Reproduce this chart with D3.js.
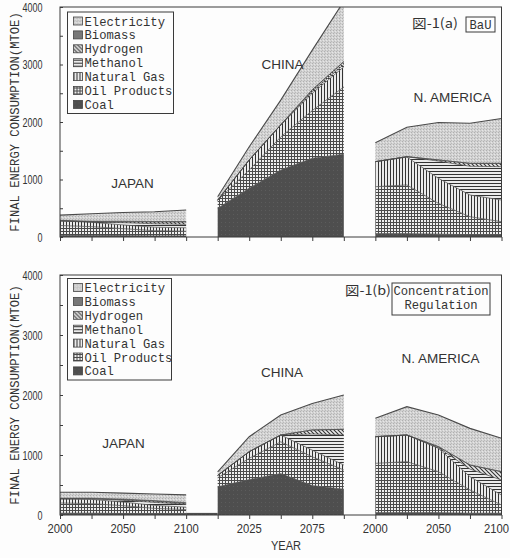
<!DOCTYPE html>
<html><head><meta charset="utf-8">
<script src="https://cdn.jsdelivr.net/npm/d3@7"></script>
<style>
html,body{margin:0;padding:0;background:#fff;}
svg{display:block;}
</style></head><body>
<svg id="chart" width="510" height="558"></svg>
<script>
// ---------------- DATA ----------------
const years = [2000, 2025, 2050, 2075, 2100];
const fuels = ['Coal', 'Oil Products', 'Natural Gas', 'Methanol', 'Hydrogen', 'Biomass', 'Electricity'];
const regions = ['JAPAN', 'CHINA', 'N. AMERICA'];
const yTicks = [0, 1000, 2000, 3000, 4000];
const xTickLabels = [
  ['JAPAN', 2000], ['JAPAN', 2050], ['JAPAN', 2100],
  ['CHINA', 2025], ['CHINA', 2075],
  ['N. AMERICA', 2000], ['N. AMERICA', 2050], ['N. AMERICA', 2100]
];

// rows follow `fuels` order (bottom of stack first), columns follow `years` (MTOE)
const bauJapan = [
  [30, 30, 25, 20, 20],
  [170, 150, 120, 90, 80],
  [80, 75, 65, 60, 60],
  [0, 10, 40, 60, 60],
  [0, 0, 15, 30, 40],
  [10, 10, 10, 10, 10],
  [90, 130, 150, 170, 200]
];
const bauChina = [
  [500, 850, 1165, 1370, 1440],
  [140, 315, 575, 830, 1170],
  [0, 175, 210, 300, 350],
  [0, 0, 0, 30, 40],
  [0, 0, 0, 30, 50],
  [0, 0, 0, 0, 0],
  [60, 230, 430, 690, 1050]
];
const bauNAmerica = [
  [60, 60, 50, 40, 40],
  [815, 845, 535, 313, 226],
  [435, 485, 435, 377, 377],
  [0, 7, 300, 500, 580],
  [0, 0, 20, 50, 57],
  [0, 0, 0, 0, 0],
  [330, 511, 650, 697, 780]
];
const regJapan = [
  [30, 30, 25, 20, 20],
  [170, 160, 130, 90, 70],
  [70, 70, 60, 50, 40],
  [0, 10, 30, 50, 50],
  [0, 0, 10, 20, 15],
  [10, 10, 10, 10, 10],
  [100, 100, 100, 110, 130]
];
const regChina = [
  [470, 590, 690, 490, 430],
  [150, 355, 530, 480, 320],
  [40, 110, 113, 110, 83],
  [0, 0, 0, 270, 500],
  [0, 0, 0, 67, 95],
  [0, 0, 0, 0, 0],
  [60, 250, 334, 443, 572]
];
const regNAmerica = [
  [40, 40, 40, 30, 30],
  [821, 849, 682, 387, 137],
  [444, 444, 389, 222, 166],
  [0, 0, 10, 127, 250],
  [0, 0, 18, 67, 139],
  [0, 0, 0, 0, 0],
  [306, 472, 528, 611, 556]
];
const regGapCoal = 35; // small residual strip between JAPAN and CHINA in panel (b)

// ---------------- LAYOUT ----------------
const svg = d3.select('#chart');
svg.append('rect').attr('width', 510).attr('height', 558).attr('fill', '#fdfdfd');
const defs = svg.append('defs');

function pattern(id, w, h, draw) {
  const p = defs.append('pattern').attr('id', id)
    .attr('patternUnits', 'userSpaceOnUse').attr('width', w).attr('height', h);
  draw(p);
}
pattern('p-coal', 4, 4, p => {
  p.append('rect').attr('width', 4).attr('height', 4).attr('fill', '#4e4e4e');
  p.append('rect').attr('x', 1).attr('y', 2).attr('width', 1).attr('height', 1).attr('fill', '#5c5c5c');
});
pattern('p-oil', 3, 3, p => {
  p.append('rect').attr('width', 3).attr('height', 3).attr('fill', '#eeeeee');
  p.append('rect').attr('width', 3).attr('height', 1).attr('fill', '#4a4a4a');
  p.append('rect').attr('width', 1).attr('height', 3).attr('fill', '#4a4a4a');
});
pattern('p-ng', 3, 3, p => {
  p.append('rect').attr('width', 3).attr('height', 3).attr('fill', '#ebebeb');
  p.append('rect').attr('width', 1).attr('height', 3).attr('fill', '#333');
});
pattern('p-meth', 3, 3, p => {
  p.append('rect').attr('width', 3).attr('height', 3).attr('fill', '#ebebeb');
  p.append('rect').attr('width', 3).attr('height', 1).attr('fill', '#333');
});
pattern('p-hyd', 4, 4, p => {
  p.append('rect').attr('width', 4).attr('height', 4).attr('fill', '#ebebeb');
  p.append('path').attr('d', 'M0,0L4,4M-1,3L1,5M3,-1L5,1').attr('stroke', '#333').attr('stroke-width', 1.1);
});
pattern('p-bio', 2, 2, p => {
  p.append('rect').attr('width', 2).attr('height', 2).attr('fill', '#9a9a9a');
  p.append('rect').attr('width', 1).attr('height', 1).attr('fill', '#555');
  p.append('rect').attr('x', 1).attr('y', 1).attr('width', 1).attr('height', 1).attr('fill', '#555');
});
pattern('p-elec', 3, 3, p => {
  p.append('rect').attr('width', 3).attr('height', 3).attr('fill', '#d2d2d2');
  p.append('rect').attr('x', 0).attr('y', 0).attr('width', 1).attr('height', 1).attr('fill', '#b0b0b0');
  p.append('rect').attr('x', 2).attr('y', 1).attr('width', 1).attr('height', 1).attr('fill', '#e6e6e6');
  p.append('rect').attr('x', 1).attr('y', 2).attr('width', 1).attr('height', 1).attr('fill', '#bababa');
});
const fuelFill = d3.scaleOrdinal().domain(fuels)
  .range(['url(#p-coal)', 'url(#p-oil)', 'url(#p-ng)', 'url(#p-meth)', 'url(#p-hyd)', 'url(#p-bio)', 'url(#p-elec)']);

// x: 15 tick slots (25-year steps), regions at offsets 0, 5, 10
const xIdx = d3.scaleLinear().domain([0, 14]).range([60, 501.5]);
const regionOffset = d3.scaleOrdinal().domain(regions).range([0, 5, 10]);
const xPos = (region, year) => xIdx(regionOffset(region) + (year - years[0]) / 25);

const panels = [
  { id: 'a', top: 7, bottom: 237, data: [bauJapan, bauChina, bauNAmerica], legendTop: 12, legendW: 106, gap: 0,
    tag: '図-1(a)', boxLines: ['BaU'], tagX: 412, tagY: 28, box: [466, 17, 29, 15],
    labels: [[132.5, 188], [282.5, 69], [452.5, 102]], showX: false },
  { id: 'b', top: 275, bottom: 515, data: [regJapan, regChina, regNAmerica], legendTop: 278.5, legendW: 104, gap: regGapCoal,
    tag: '図-1(b)', boxLines: ['Concentration', 'Regulation'], tagX: 345, tagY: 295, box: [392, 283, 98, 32],
    labels: [[123.5, 448], [282, 377], [440.5, 363]], showX: true }
];

const ink = '#3a3a3a';
const sansFont = 'Liberation Sans, Arial, sans-serif';
const monoFont = 'Liberation Mono, DejaVu Sans Mono, monospace';

panels.forEach(P => {
  const y = d3.scaleLinear().domain([0, 4000]).range([P.bottom, P.top]);
  const g = svg.append('g');
  const clipId = 'clip-' + P.id;
  defs.append('clipPath').attr('id', clipId).append('rect')
    .attr('x', xIdx(0)).attr('y', P.top).attr('width', xIdx(14) - xIdx(0)).attr('height', P.bottom - P.top);
  const plot = g.append('g').attr('clip-path', `url(#${clipId})`);

  regions.forEach((reg, ri) => {
    const m = P.data[ri];
    const table = years.map((yr, j) => {
      const row = { year: yr };
      fuels.forEach((f, k) => row[f] = m[k][j]);
      return row;
    });
    const series = d3.stack().keys(fuels)(table);
    const area = d3.area().x(d => xPos(reg, d.data.year)).y0(d => y(d[0])).y1(d => y(d[1]));
    const line = d3.line().x(d => xPos(reg, d.data.year)).y(d => y(d[1]));
    plot.selectAll(null).data(series).enter().append('path')
      .attr('d', area).attr('fill', s => fuelFill(s.key)).attr('stroke', 'none');
    plot.selectAll(null).data(series.filter(s => s.key !== 'Coal')).enter().append('path')
      .attr('d', s => d3.line().x(d => xPos(reg, d.data.year)).y(d => y(d[0]))(s))
      .attr('fill', 'none').attr('stroke', '#4a4a4a').attr('stroke-width', 0.7);
    plot.append('path').datum(series[series.length - 1]).attr('d', line)
      .attr('fill', 'none').attr('stroke', '#4a4a4a').attr('stroke-width', 1.1);
  });
  if (P.gap > 0) {
    plot.append('rect').attr('x', xPos('JAPAN', 2100)).attr('y', y(P.gap))
      .attr('width', xPos('CHINA', 2000) - xPos('JAPAN', 2100)).attr('height', y(0) - y(P.gap))
      .attr('fill', 'url(#p-coal)');
  }

  // frame
  g.append('rect').attr('x', xIdx(0)).attr('y', P.top).attr('width', xIdx(14) - xIdx(0)).attr('height', P.bottom - P.top)
    .attr('fill', 'none').attr('stroke', ink).attr('stroke-width', 1);

  // x ticks
  const xAxis = d3.axisBottom(xIdx).tickValues(d3.range(15)).tickSize(4).tickFormat('');
  const xa = g.append('g').attr('transform', `translate(0,${P.bottom})`).call(xAxis);
  xa.select('.domain').remove();
  xa.selectAll('line').attr('stroke', ink);
  if (P.showX) {
    g.selectAll(null).data(xTickLabels).enter().append('text')
      .attr('transform', (d, i) => {
        const x = Math.min(xPos(d[0], d[1]), 496.5);
        return `translate(${x},${P.bottom + 18}) scale(0.9,1)`;
      })
      .attr('text-anchor', 'middle')
      .attr('font-family', sansFont)
      .attr('font-size', 12.5).attr('fill', '#333').text(d => d[1]);
  }

  // y ticks
  const yAxis = d3.axisLeft(y).tickValues(d3.range(0, 4001, 500)).tickSize(-3).tickFormat('');
  const ya = g.append('g').attr('transform', `translate(${xIdx(0)},0)`).call(yAxis);
  ya.select('.domain').remove();
  ya.selectAll('line').attr('stroke', ink);
  g.selectAll(null).data(yTicks).enter().append('text')
    .attr('transform', d => `translate(42.5,${y(d)}) scale(0.72,1)`)
    .attr('dy', '0.36em').attr('text-anchor', 'end')
    .attr('font-family', sansFont)
    .attr('font-size', 12.5).attr('fill', '#333').text(d => d);

  // y title
  g.append('text').attr('transform', `translate(19,${(P.top + P.bottom) / 2}) rotate(-90)`)
    .attr('text-anchor', 'middle').attr('font-family', monoFont)
    .attr('font-size', 12.2).attr('fill', '#333').text('FINAL ENERGY CONSUMPTION(MTOE)');

  // region labels
  g.selectAll(null).data(regions).enter().append('text')
    .attr('x', (d, i) => P.labels[i][0]).attr('y', (d, i) => P.labels[i][1])
    .attr('text-anchor', 'middle').attr('font-family', sansFont)
    .attr('font-size', 13.5).attr('fill', '#333').text(d => d);

  // legend
  const lg = g.append('g');
  const lx = 67.5, rowH = 13.9;
  lg.append('rect').attr('x', lx).attr('y', P.legendTop).attr('width', P.legendW).attr('height', 101.5)
    .attr('fill', '#fdfdfd').attr('stroke', ink).attr('stroke-width', 1);
  const items = fuels.slice().reverse();
  const it = lg.selectAll(null).data(items).enter().append('g')
    .attr('transform', (d, i) => `translate(${lx + 6},${P.legendTop + 9 + i * rowH})`);
  it.append('rect').attr('x', 0).attr('y', -4).attr('width', 9).attr('height', 8)
    .attr('fill', d => fuelFill(d)).attr('stroke', '#444').attr('stroke-width', 0.8);
  it.append('text').attr('x', 11).attr('y', 4.5)
    .attr('font-family', monoFont)
    .attr('font-size', 12.2).attr('fill', '#333').text(d => d);

  // figure tag & scenario box
  g.append('text').attr('x', P.tagX).attr('y', P.tagY)
    .attr('font-family', 'Noto Sans CJK JP, sans-serif').attr('font-size', 13)
    .attr('textLength', 46).attr('lengthAdjust', 'spacingAndGlyphs')
    .attr('fill', '#333').text(P.tag);
  g.append('rect').attr('x', P.box[0]).attr('y', P.box[1]).attr('width', P.box[2]).attr('height', P.box[3])
    .attr('fill', 'none').attr('stroke', ink).attr('stroke-width', 1);
  g.selectAll(null).data(P.boxLines).enter().append('text')
    .attr('x', P.box[0] + P.box[2] / 2)
    .attr('y', (d, i) => P.box[1] + (P.boxLines.length === 1 ? P.box[3] / 2 + 4.5 : 12 + i * 14))
    .attr('text-anchor', 'middle').attr('font-family', monoFont)
    .attr('font-size', 12.2).attr('fill', '#333').text(d => d);
});

svg.append('text').attr('transform', 'translate(286,550) scale(0.85,1)').attr('text-anchor', 'middle')
  .attr('font-family', sansFont)
  .attr('font-size', 13).attr('fill', '#333').text('YEAR');
</script>
</body></html>
